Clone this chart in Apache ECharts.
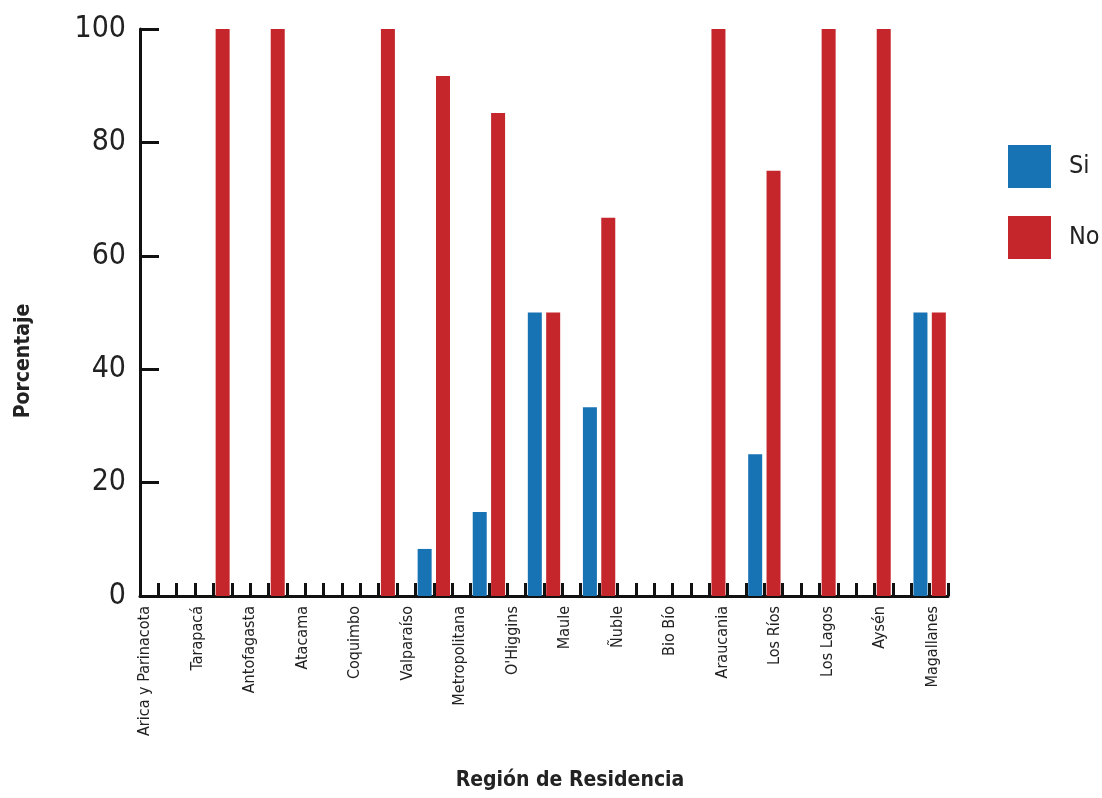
<!DOCTYPE html>
<html>
<head>
<meta charset="utf-8">
<script src="https://cdn.jsdelivr.net/npm/echarts@6/dist/echarts.min.js"></script>
<style>
html,body{margin:0;padding:0;background:#fff;}
#chart{width:1102px;height:798px;}
</style>
</head>
<body>
<div id="chart"></div>
<script>
// Region labels (16, evenly spread under the axis as in the reference)
const regions = ['Arica y Parinacota','Tarapacá','Antofagasta','Atacama','Coquimbo','Valparaíso','Metropolitana',"O'Higgins",'Maule','Ñuble','Bio Bío','Araucania','Los Ríos','Los Lagos','Aysén','Magallanes'];
// Bar groups as drawn in the reference (15 groups of Si / No)
const siValues = [0, 0, 0, 0, 0, 8.3, 14.8, 50, 33.3, 0, 0, 25, 0, 0, 50];
const noValues = [0, 100, 100, 0, 100, 91.7, 85.2, 50, 66.7, 0, 100, 75, 100, 100, 50];
const yTicks = [0, 20, 40, 60, 80, 100];

const FONT = '"Liberation Sans Narrow","DejaVu Sans Condensed","Noto Sans",sans-serif';
const BLUE = '#1873b4';
const RED = '#c5262c';

// slot layout: each group = [Si, No, gap]; last group has no trailing gap
const nSlots = siValues.length * 3 - 1;
const slots = Array.from({length: nSlots}, (_, i) => String(i));
const siData = slots.map((_, i) => (i % 3 === 0 ? siValues[i / 3] : '-'));
const noData = slots.map((_, i) => (i % 3 === 1 ? noValues[(i - 1) / 3] : '-'));

const chart = echarts.init(document.getElementById('chart'), null, {renderer: 'canvas'});
chart.setOption({
  animation: false,
  backgroundColor: '#fff',
  graphic: [
    {
      type: 'text', x: 570, y: 781,
      style: {text: 'Región de Residencia', x: 0, y: 0, textAlign: 'center', textVerticalAlign: 'middle',
        font: 'bold 21px ' + FONT, fill: '#222'}
    },
    {
      type: 'text', x: 24, y: 361, rotation: Math.PI / 2,
      style: {text: 'Porcentaje', x: 0, y: 0, textAlign: 'center', textVerticalAlign: 'middle',
        font: 'bold 21px ' + FONT, fill: '#222'}
    }
  ],
  legend: {
    orient: 'vertical',
    left: 1008, top: 145,
    padding: 0,
    itemWidth: 43, itemHeight: 43, itemGap: 28,
    icon: 'rect',
    textStyle: {fontFamily: FONT, fontSize: 25, color: '#222', padding: [0,0,0,13]},
    data: ['Si', 'No']
  },
  grid: [
    {left: 140, right: 154, top: 29, bottom: 202, containLabel: false},
    {left: 145, right: 169.5, top: 29, bottom: 202, containLabel: false}
  ],
  xAxis: [
    {
      type: 'category', gridIndex: 0, data: slots, boundaryGap: true,
      axisLine: {show: true, lineStyle: {color: '#111', width: 3}},
      axisTick: {show: true, inside: true, length: 13, interval: 0, lineStyle: {color: '#111', width: 3}},
      axisLabel: {show: false},
      splitLine: {show: false}
    },
    {
      type: 'category', gridIndex: 1, data: regions, boundaryGap: false,
      axisLine: {show: false}, axisTick: {show: false},
      axisLabel: {show: true, interval: 0, rotate: 90, margin: 10, fontFamily: FONT, fontSize: 16, color: '#222'},
      splitLine: {show: false}
    }
  ],
  yAxis: [
    {
      type: 'value', gridIndex: 0, min: 0, max: 100, interval: 20,
      axisLine: {show: true, lineStyle: {color: '#111', width: 3}},
      axisTick: {show: true, inside: true, length: 19, lineStyle: {color: '#111', width: 3}},
      axisLabel: {show: true, margin: 14, fontFamily: FONT, fontSize: 30, color: '#222',
        formatter: v => (yTicks.indexOf(v) >= 0 ? String(v) : '')},
      splitLine: {show: false}
    },
    {
      type: 'value', gridIndex: 1, min: 0, max: 100, show: false
    }
  ],
  series: [
    {
      name: 'Si', type: 'bar', xAxisIndex: 0, yAxisIndex: 0,
      data: siData, barWidth: 14, barGap: '-100%',
      itemStyle: {color: BLUE}
    },
    {
      name: 'No', type: 'bar', xAxisIndex: 0, yAxisIndex: 0,
      data: noData, barWidth: 14, barGap: '-100%',
      itemStyle: {color: RED}
    }
  ]
});
</script>
</body>
</html>
